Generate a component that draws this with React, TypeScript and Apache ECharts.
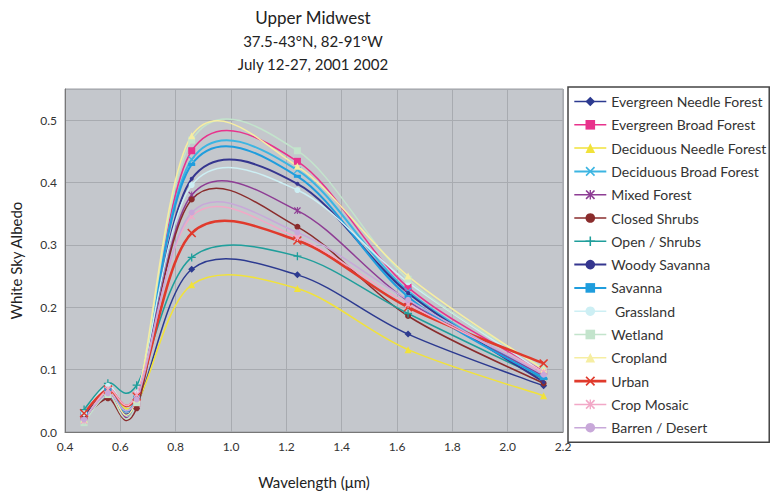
import React, { useEffect, useRef } from "react";
import * as echarts from "echarts";

const wavelengths = [0.469, 0.555, 0.659, 0.858, 1.24, 1.64, 2.13];

const seriesNames = [
  "Evergreen Needle Forest",
  "Evergreen Broad Forest",
  "Deciduous Needle Forest",
  "Deciduous Broad Forest",
  "Mixed Forest",
  "Closed Shrubs",
  "Open / Shrubs",
  "Woody Savanna",
  "Savanna",
  " Grassland",
  "Wetland",
  "Cropland",
  "Urban",
  "Crop Mosaic",
  "Barren / Desert",
];

const evergreenNeedle = [0.025, 0.057, 0.045, 0.261, 0.252, 0.157, 0.074];
const evergreenBroad = [0.024, 0.066, 0.046, 0.451, 0.434, 0.232, 0.097];
const deciduousNeedle = [0.022, 0.06, 0.047, 0.236, 0.23, 0.132, 0.058];
const deciduousBroad = [0.028, 0.066, 0.05, 0.437, 0.42, 0.226, 0.088];
const mixedForest = [0.025, 0.06, 0.042, 0.38, 0.355, 0.21, 0.09];
const closedShrubs = [0.022, 0.054, 0.038, 0.373, 0.329, 0.186, 0.078];
const openShrubs = [0.036, 0.078, 0.075, 0.28, 0.282, 0.19, 0.085];
const woodySavanna = [0.028, 0.062, 0.05, 0.406, 0.398, 0.223, 0.08];
const savanna = [0.03, 0.068, 0.056, 0.429, 0.41, 0.217, 0.086];
const grassland = [0.03, 0.074, 0.062, 0.396, 0.388, 0.24, 0.095];
const wetland = [0.015, 0.06, 0.047, 0.468, 0.451, 0.245, 0.102];
const cropland = [0.02, 0.066, 0.053, 0.475, 0.426, 0.25, 0.1];
const urban = [0.03, 0.068, 0.057, 0.319, 0.307, 0.2, 0.11];
const cropMosaic = [0.018, 0.068, 0.06, 0.346, 0.312, 0.205, 0.096];
const barren = [0.02, 0.062, 0.052, 0.352, 0.32, 0.212, 0.092];

const seriesValues = [
  evergreenNeedle,
  evergreenBroad,
  deciduousNeedle,
  deciduousBroad,
  mixedForest,
  closedShrubs,
  openShrubs,
  woodySavanna,
  savanna,
  grassland,
  wetland,
  cropland,
  urban,
  cropMosaic,
  barren,
];

const xTicks = [0.4, 0.6, 0.8, 1.0, 1.2, 1.4, 1.6, 1.8, 2.0, 2.2];
const yTicks = [0.0, 0.1, 0.2, 0.3, 0.4, 0.5];

const X_SYM =
  "path://M0,1.2 L1.2,0 L5,3.8 L8.8,0 L10,1.2 L6.2,5 L10,8.8 L8.8,10 L5,6.2 L1.2,10 L0,8.8 L3.8,5 Z";
const PLUS_SYM = "path://M4.2,0 H5.8 V4.2 H10 V5.8 H5.8 V10 H4.2 V5.8 H0 V4.2 H4.2 Z";
const STAR_SYM =
  "path://M0,1.2 L1.2,0 L5,3.8 L8.8,0 L10,1.2 L6.2,5 L10,8.8 L8.8,10 L5,6.2 L1.2,10 L0,8.8 L3.8,5 Z M4.3,0 H5.7 V10 H4.3 Z";

const styles = [
  { color: "#2c3a90", symbol: "diamond", size: 7, width: 1.5 },
  { color: "#e8328c", symbol: "rect", size: 7, width: 1.5 },
  { color: "#f1e23a", symbol: "triangle", size: 7, width: 1.5 },
  { color: "#3cb5e2", symbol: X_SYM, size: 7, width: 2 },
  { color: "#8e3d94", symbol: STAR_SYM, size: 7, width: 1.5 },
  { color: "#8a2c2c", symbol: "circle", size: 6, width: 1.5 },
  { color: "#1f9e9b", symbol: PLUS_SYM, size: 8, width: 1.5 },
  { color: "#35368f", symbol: "circle", size: 4, width: 2 },
  { color: "#1f9ddd", symbol: "rect", size: [7, 3], width: 2 },
  { color: "#cdeff4", symbol: "circle", size: 6, width: 1.5 },
  { color: "#c3e4cc", symbol: "rect", size: 7, width: 1.5 },
  { color: "#f6eea2", symbol: "triangle", size: 7, width: 1.5 },
  { color: "#e03a2c", symbol: X_SYM, size: 9, width: 2.6 },
  { color: "#f2a8c7", symbol: STAR_SYM, size: 7, width: 1.5 },
  { color: "#c8a8d9", symbol: "circle", size: 6, width: 1.5 },
];

const FONT = "Lato, 'Open Sans', sans-serif";

// Catmull-Rom (Excel-like) smoothing in pixel space
function smoothPath(pts: number[][]): string {
  let d = `M${pts[0][0]},${pts[0][1]}`;
  for (let i = 0; i < pts.length - 1; i++) {
    const p0 = pts[i - 1] || pts[i];
    const p1 = pts[i];
    const p2 = pts[i + 1];
    const p3 = pts[i + 2] || p2;
    const c1x = p1[0] + (p2[0] - p0[0]) / 6;
    const c1y = p1[1] + (p2[1] - p0[1]) / 6;
    const c2x = p2[0] - (p3[0] - p1[0]) / 6;
    const c2y = p2[1] - (p3[1] - p1[1]) / 6;
    d += ` C${c1x},${c1y} ${c2x},${c2y} ${p2[0]},${p2[1]}`;
  }
  return d;
}

export default function App() {
  const ref = useRef<HTMLDivElement>(null);

  useEffect(() => {
    document.body.style.margin = "0";
    const chart = echarts.init(ref.current!, null, { renderer: "svg" });

    const curveSeries = seriesNames.map((name, i) => ({
      name: name + " curve",
      type: "custom",
      z: 2,
      clip: true,
      silent: true,
      data: wavelengths.map((w, j) => [w, seriesValues[i][j]]),
      renderItem: (params: any, api: any) => {
        if (params.dataIndex !== 0) return null;
        const pts = wavelengths.map((w, j) => api.coord([w, seriesValues[i][j]]));
        return {
          type: "path",
          shape: { pathData: smoothPath(pts) },
          style: {
            fill: "none",
            stroke: styles[i].color,
            lineWidth: styles[i].width,
          },
        };
      },
    }));

    const markerSeries = seriesNames.map((name, i) => ({
      name,
      type: "line",
      z: 3,
      data: wavelengths.map((w, j) => [w, seriesValues[i][j]]),
      symbol: styles[i].symbol,
      symbolSize: styles[i].size,
      showSymbol: true,
      lineStyle: { color: styles[i].color, width: styles[i].width, opacity: 0 },
      itemStyle: { color: styles[i].color },
      emphasis: { disabled: true },
      silent: true,
    }));

    chart.setOption({
      animation: false,
      backgroundColor: "#ffffff",
      textStyle: { fontFamily: FONT },
      graphic: [
        {
          type: "text",
          x: 313,
          y: 9,
          style: {
            text: "Upper Midwest",
            fontSize: 17,
            fontFamily: FONT,
            fill: "#222",
            textAlign: "center",
          },
        },
        {
          type: "text",
          x: 313,
          y: 33,
          style: {
            text: "37.5-43°N, 82-91°W",
            fontSize: 15,
            fontFamily: FONT,
            fill: "#222",
            textAlign: "center",
          },
        },
        {
          type: "text",
          x: 313,
          y: 56,
          style: {
            text: "July 12-27, 2001 2002",
            fontSize: 15,
            fontFamily: FONT,
            fill: "#222",
            textAlign: "center",
          },
        },
      ],
      grid: {
        left: 64,
        top: 89,
        width: 499,
        height: 351,
        show: true,
        backgroundColor: "#c4c7cc",
        borderColor: "#9c9fa4",
        borderWidth: 1,
      },
      legend: {
        orient: "vertical",
        left: 568,
        top: 87,
        data: seriesNames.map((name, i) => ({
          name,
          lineStyle: { color: styles[i].color, width: styles[i].width, opacity: 1 },
        })),
        itemWidth: 32,
        itemHeight: 12,
        itemGap: 8.3,
        padding: [7, 3, 7, 5],
        backgroundColor: "#ffffff",
        borderColor: "#444",
        borderWidth: 1.5,
        textStyle: { fontSize: 14, lineHeight: 15, color: "#333", fontFamily: FONT },
        selectedMode: false,
      },
      xAxis: {
        type: "value",
        min: xTicks[0],
        max: xTicks[xTicks.length - 1],
        interval: 0.2,
        name: "Wavelength (μm)",
        nameLocation: "middle",
        nameGap: 42,
        nameTextStyle: { fontSize: 15, color: "#222", fontFamily: FONT },
        axisLine: { show: true, lineStyle: { color: "#777" } },
        axisTick: { show: false },
        axisLabel: {
          fontSize: 12,
          color: "#333",
          margin: 8,
          formatter: (v: number) => v.toFixed(1),
        },
        splitLine: { show: true, lineStyle: { color: "#a8abb0", width: 1 } },
      },
      yAxis: {
        type: "value",
        min: yTicks[0],
        max: 0.55,
        interval: 0.1,
        name: "White Sky Albedo",
        nameLocation: "middle",
        nameGap: 42,
        nameRotate: 90,
        nameTextStyle: { fontSize: 15, color: "#222", fontFamily: FONT },
        axisLine: { show: true, lineStyle: { color: "#777" } },
        axisTick: { show: false },
        axisLabel: {
          fontSize: 12,
          color: "#333",
          margin: 8,
          formatter: (v: number) => (v > yTicks[yTicks.length - 1] + 0.001 ? "" : v.toFixed(1)),
        },
        splitLine: { show: true, lineStyle: { color: "#a8abb0", width: 1 } },
      },
      series: [...markerSeries, ...curveSeries],
    });

    return () => chart.dispose();
  }, []);

  return <div ref={ref} style={{ width: 771, height: 494 }} />;
}
